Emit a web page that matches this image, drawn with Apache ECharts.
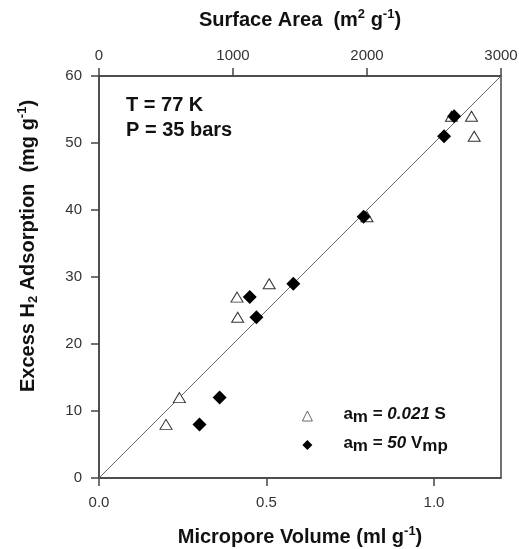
<!DOCTYPE html>
<html>
<head>
<meta charset="utf-8">
<script src="https://cdn.jsdelivr.net/npm/echarts@6/dist/echarts.min.js"></script>
<style>html,body{margin:0;padding:0;background:#fff}#c{width:519px;height:549px}</style>
</head>
<body>
<div id="c"></div>
<script>
// Surface-area based points (triangles, top axis)
const surfaceArea = [500, 600, 1030, 1035, 1270, 2000, 2630, 2780, 2800];
const h2Surface   = [8, 12, 27, 24, 29, 39, 54, 54, 51];
// Micropore-volume based points (diamonds, bottom axis)
const microVolume = [0.30, 0.36, 0.45, 0.47, 0.58, 0.79, 1.06, 1.03];
const h2Volume    = [8, 12, 27, 24, 29, 39, 54, 51];
// Fit line a_m = 50 Vmp
const fitX = [0, 1.2];
const fitY = [0, 60];
const volumeTicks = [0, 0.5, 1.0];
const seriesNames = ['a_m = 0.021 S', 'a_m = 50 V_mp'];

const FONT = '"Liberation Sans", Arial, sans-serif';
const chart = echarts.init(document.getElementById('c'), null, {renderer: 'canvas'});

const legendRich = {
  b: {fontSize: 17, fontWeight: 'bold', color: '#111', fontFamily: FONT, lineHeight: 20, verticalAlign: 'top'},
  i: {fontSize: 17, fontWeight: 'bold', fontStyle: 'italic', color: '#111', fontFamily: FONT, lineHeight: 20, verticalAlign: 'top'},
  s: {fontSize: 17, fontWeight: 'bold', color: '#111', fontFamily: FONT, lineHeight: 20, verticalAlign: 'bottom'}
};

chart.setOption({
  animation: false,
  grid: {left: 99, right: 18, top: 76, bottom: 71, show: true, borderColor: '#444', borderWidth: 1.5,
    backgroundColor: 'transparent', outerBoundsMode: 'none', containLabel: false},
  xAxis: [
    {
      type: 'value', position: 'bottom', min: 0, max: 1.2,
      name: 'Micropore Volume (ml g{sup|-1})', nameLocation: 'middle', nameGap: 47,
      nameTextStyle: {fontSize: 20, fontWeight: 'bold', color: '#111', fontFamily: FONT,
        rich: {sup: {fontSize: 13, fontWeight: 'bold', color: '#111', fontFamily: FONT, verticalAlign: 'top', lineHeight: 24}}},
      axisLine: {show: true, lineStyle: {color: '#444', width: 1.5}},
      axisTick: {show: true, length: 8, customValues: volumeTicks, lineStyle: {color: '#444', width: 1.5}},
      axisLabel: {customValues: volumeTicks, margin: 17, fontSize: 15, color: '#333', fontFamily: FONT, formatter: v => v.toFixed(1)},
      splitLine: {show: false}
    },
    {
      type: 'value', position: 'top', min: 0, max: 3000, interval: 1000,
      name: 'Surface Area  (m{sup|2} g{sup|-1})', nameLocation: 'middle', nameGap: 44,
      nameTextStyle: {fontSize: 20, fontWeight: 'bold', color: '#111', fontFamily: FONT,
        rich: {sup: {fontSize: 13, fontWeight: 'bold', color: '#111', fontFamily: FONT, verticalAlign: 'top', lineHeight: 24}}},
      axisLine: {show: true, lineStyle: {color: '#444', width: 1.5}},
      axisTick: {show: true, length: 8, lineStyle: {color: '#444', width: 1.5}},
      axisLabel: {margin: 13, fontSize: 15, color: '#333', fontFamily: FONT, formatter: v => String(v)},
      splitLine: {show: false}
    }
  ],
  yAxis: {
    type: 'value', min: 0, max: 60, interval: 10,
    name: 'Excess H{sub|2} Adsorption  (mg g{sup|-1})', nameLocation: 'middle', nameGap: 59,
    nameTextStyle: {fontSize: 20, fontWeight: 'bold', color: '#111', fontFamily: FONT, padding: [0, 0, 0, 62],
      rich: {
        sup: {fontSize: 13, fontWeight: 'bold', color: '#111', fontFamily: FONT, verticalAlign: 'top', lineHeight: 24},
        sub: {fontSize: 13, fontWeight: 'bold', color: '#111', fontFamily: FONT, verticalAlign: 'bottom', lineHeight: 14}
      }},
    axisLine: {show: true, lineStyle: {color: '#444', width: 1.5}},
    axisTick: {show: true, length: 8, lineStyle: {color: '#444', width: 1.5}},
    axisLabel: {margin: 17, fontSize: 15, color: '#333', fontFamily: FONT},
    splitLine: {show: false}
  },
  legend: {
    orient: 'vertical', left: 297, top: 401, itemWidth: 10, itemHeight: 10, itemGap: 9,
    data: [
      {name: seriesNames[0], itemStyle: {color: '#fff', borderColor: '#444', borderWidth: 0.8}},
      {name: seriesNames[1]}
    ],
    textStyle: {padding: [0, 0, 0, 26], rich: legendRich},
    formatter: function (name) {
      if (name === seriesNames[0]) return '{b|a}{s|m}{b| = }{i|0.021}{b| S}';
      return '{b|a}{s|m}{b| = }{i|50}{b| V}{s|mp}';
    }
  },
  graphic: [{
    type: 'text', left: 126, top: 93, silent: true,
    style: {text: 'T = 77 K\nP = 35 bars', fontSize: 20, fontWeight: 'bold', fill: '#111', fontFamily: FONT, lineHeight: 25}
  }],
  series: [
    {
      type: 'line', xAxisIndex: 0, yAxisIndex: 0, silent: true, symbol: 'none',
      data: fitX.map((x, i) => [x, fitY[i]]),
      lineStyle: {color: '#666', width: 1}, z: 1
    },
    {
      name: seriesNames[0], type: 'scatter', xAxisIndex: 1, yAxisIndex: 0,
      symbol: 'triangle', symbolSize: [12, 10],
      data: surfaceArea.map((x, i) => [x, h2Surface[i]]),
      itemStyle: {color: '#fff', borderColor: '#333', borderWidth: 1, opacity: 1}, z: 2
    },
    {
      name: seriesNames[1], type: 'scatter', xAxisIndex: 0, yAxisIndex: 0,
      symbol: 'diamond', symbolSize: 14,
      data: microVolume.map((x, i) => [x, h2Volume[i]]),
      itemStyle: {color: '#000', opacity: 1}, z: 3
    }
  ]
});
</script>
</body>
</html>
